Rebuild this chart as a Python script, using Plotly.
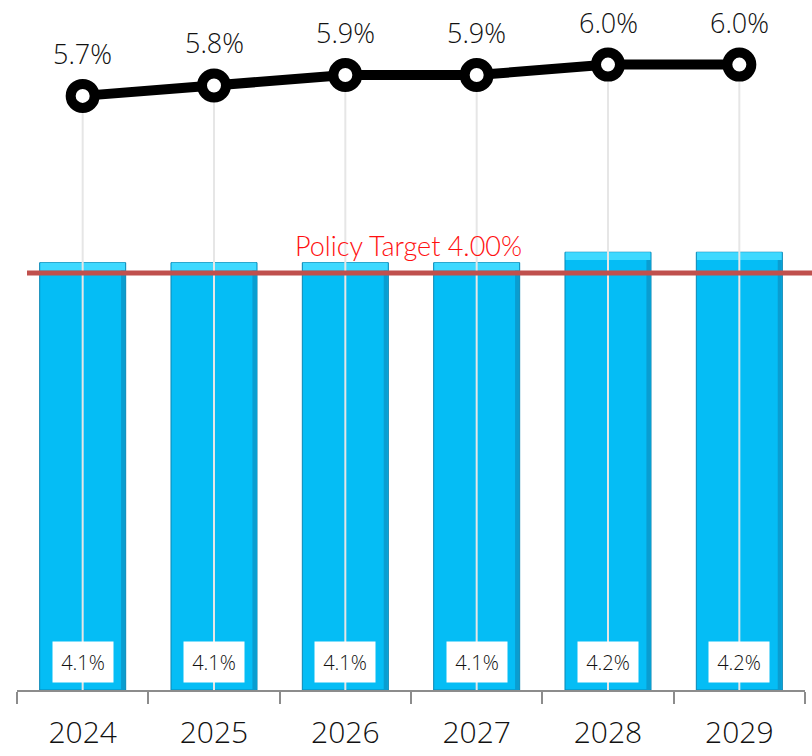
import plotly.graph_objects as go

years = ["2024", "2025", "2026", "2027", "2028", "2029"]
bar_values = [4.1, 4.1, 4.1, 4.1, 4.2, 4.2]
line_values = [5.7, 5.8, 5.9, 5.9, 6.0, 6.0]
policy_target = 4.0
policy_label = "Policy Target 4.00%"

BAR_W = 0.655
BEVEL = 0.075

fig = go.Figure()

fig.add_trace(go.Bar(
    x=years, y=bar_values, width=BAR_W,
    marker=dict(color="#05BDF5", line=dict(color="#0B86B3", width=1)),
    hoverinfo="skip", showlegend=False,
))
# top bevel highlight
fig.add_trace(go.Bar(
    x=years, y=[BEVEL] * len(bar_values), base=[v - BEVEL for v in bar_values],
    width=BAR_W - 0.01,
    marker=dict(color="#3FD9FF", line=dict(width=0)),
    hoverinfo="skip", showlegend=False,
))
# right edge shade
fig.add_trace(go.Bar(
    x=years, y=[v - BEVEL for v in bar_values], width=0.03,
    offset=BAR_W / 2 - 0.035,
    marker=dict(color="#0A9DD0", line=dict(width=0)),
    hoverinfo="skip", showlegend=False,
))

# drop lines from each point to the baseline
dx, dy = [], []
for yr, v in zip(years, line_values):
    dx += [yr, yr, None]
    dy += [0, v, None]
fig.add_trace(go.Scatter(
    x=dx, y=dy, mode="lines",
    line=dict(color="#E6E6E6", width=2),
    hoverinfo="skip", showlegend=False,
))

fig.add_trace(go.Scatter(
    x=years, y=line_values, mode="lines+markers",
    line=dict(color="#000000", width=10),
    marker=dict(size=24, color="white", line=dict(color="#000000", width=10)),
    hoverinfo="skip", showlegend=False,
))

fig.add_shape(type="line", xref="paper", yref="y",
              x0=0.0127, x1=1.01, y0=policy_target, y1=policy_target,
              line=dict(color="#C0504D", width=5), layer="above")

fig.add_annotation(xref="paper", yref="y", x=0.497, y=policy_target,
                   text=policy_label, showarrow=False, yanchor="bottom", yshift=9,
                   font=dict(family="Lato", size=27, color="#FF1010", weight=300))

for i, v in enumerate(line_values):
    fig.add_annotation(x=i, y=v, xref="x", yref="y", text=f"{v:.1f}%", showarrow=False,
                       yanchor="bottom", yshift=22,
                       font=dict(family="Open Sans", size=27, color="#111111", weight=300))

for i, v in enumerate(bar_values):
    fig.add_annotation(x=i, y=0, xref="x", yref="y", text=f"{v:.1f}%", showarrow=False,
                       yanchor="bottom", yshift=7, width=60, height=40,
                       bgcolor="white", borderpad=0,
                       font=dict(family="Open Sans", size=20, color="#111111", weight=300))

fig.update_layout(
    width=812, height=756,
    margin=dict(l=17, r=7, t=0, b=66),
    paper_bgcolor="white", plot_bgcolor="white",
    barmode="overlay",
    xaxis=dict(
        type="category", range=[-0.5, 5.5],
        showline=True, linecolor="#8C8C8C", linewidth=2,
        ticks="outside", tickson="boundaries", ticklen=12, tickwidth=2, tickcolor="#8C8C8C",
        showgrid=False, automargin=False, ticklabelstandoff=15,
        tickfont=dict(family="Open Sans", size=30, color="#111111", weight=300),
    ),
    yaxis=dict(range=[0, 6.62], visible=False, showgrid=False, zeroline=False),
)

fig.write_html("out.html", config={"displayModeBar": False},
               post_script="document.body.style.margin='0';document.body.style.overflow='hidden';")
